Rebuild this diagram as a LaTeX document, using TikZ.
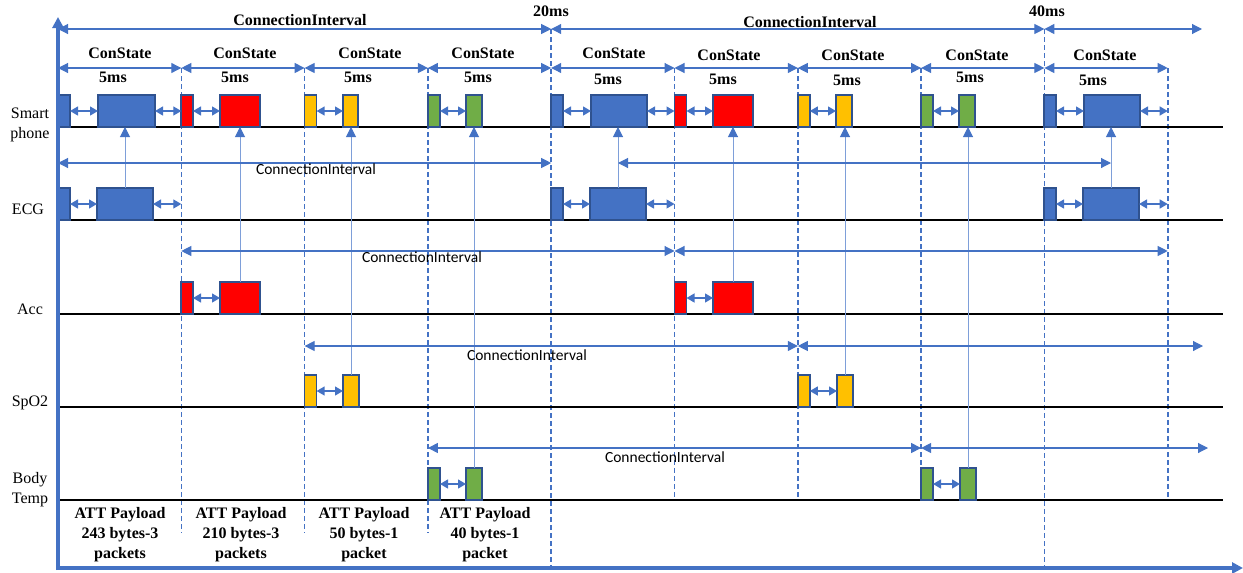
\documentclass[tikz,border=0pt]{standalone}
\usepackage{fontspec}
\setmainfont{Liberation Serif}
\newfontfamily\timesf{Liberation Serif}
\newfontfamily\calib{Carlito}
\usetikzlibrary{arrows.meta}

\definecolor{linkblue}{HTML}{4472C4}
\definecolor{edgeblue}{HTML}{2F528F}
\definecolor{guide}{HTML}{7E9FD9}
\definecolor{pktblue}{HTML}{4472C4}
\definecolor{pktred}{HTML}{FF0000}
\definecolor{pktyellow}{HTML}{FFC000}
\definecolor{pktgreen}{HTML}{70AD47}

% packet box: name, colour, left x, width, baseline y
\newcommand\pkt[5]{\node[pktbox,fill=#2,minimum width=#4pt] (#1) at (#3,#5) {};}

\begin{document}
\begin{tikzpicture}[x=1pt,y=-1pt,
  pktbox/.style={draw=edgeblue,line width=1.5pt,minimum height=32pt,inner sep=0pt,outer sep=0pt,anchor=south west},
  axisline/.style={draw=linkblue,line width=3.2pt,-{Triangle[length=11pt,width=11pt]}},
  cispan/.style={draw=linkblue,line width=1.1pt,{Triangle[length=10pt,width=10pt]}-{Triangle[length=10pt,width=10pt]}},
  gaparrow/.style={draw=linkblue,line width=1.3pt,{Triangle[length=8pt,width=9pt]}-{Triangle[length=8pt,width=9pt]}},
  slotline/.style={draw=linkblue,line width=1.6pt,dash pattern=on 5pt off 3pt},
  feedline/.style={draw=guide,line width=1pt,-{Triangle[length=10pt,width=10pt,color=linkblue]}},
  rowline/.style={draw=black,line width=1.6pt},
  hdrtext/.style={font=\timesf\fontsize{16}{18}\selectfont\bfseries,inner sep=0pt},
  devtext/.style={font=\timesf\fontsize{16}{20}\selectfont,align=center,inner sep=0pt},
  paytext/.style={font=\timesf\fontsize{16}{20}\selectfont\bfseries,align=center,inner sep=0pt},
  citext/.style={font=\calib\fontsize{15.5}{18}\selectfont,inner sep=0pt}]

\useasboundingbox (0,0) rectangle (1243,573);

% slot boundaries (5 ms each)
\foreach \i/\x in {0/58,1/181.3,2/304.6,3/427.9,4/551.2,5/674.5,6/797.8,7/921.1,8/1044.4,9/1167.7}
  \coordinate (s\i) at (\x,0);

% horizontal levels
\coordinate (yCI) at (0,29);
\coordinate (yCS) at (0,68);
\coordinate (yCut) at (0,533);
\coordinate (yAX) at (0,568);
\coordinate (rSP) at (0,127);
\coordinate (rECG) at (0,220);
\coordinate (rACC) at (0,314);
\coordinate (rSPO) at (0,407);
\coordinate (rBT) at (0,500);
\coordinate (cECG) at (0,163);
\coordinate (cACC) at (0,251);
\coordinate (cSPO) at (0,346);
\coordinate (cBT) at (0,448);
\coordinate (endTop) at (1202,29);
\coordinate (endSPO) at (1203,346);
\coordinate (endBT) at (1208,448);
\coordinate (rowEnd) at (1223,0);
\coordinate (axEnd) at (1243,568);
\coordinate (axTop) at (58,17);
\coordinate (axOrg) at (58,570);

% slot boundaries
\foreach \i in {1,2,3} \draw[slotline] (s\i |- yCS) -- (s\i |- yCut);
\foreach \i in {4,8} \draw[slotline] (s\i |- yCI) -- (s\i |- yAX);
\foreach \i in {5,6,7,9} \draw[slotline] (s\i |- yCS) -- (s\i |- rBT);

% device time lines
\foreach \r in {rSP,rECG,rACC,rSPO,rBT} \draw[rowline] (s0 |- \r) -- (rowEnd |- \r);

% top connection interval
\draw[cispan] (s0 |- yCI) -- (s4 |- yCI);
\draw[cispan] (s4 |- yCI) -- (s8 |- yCI);
\draw[cispan] (s8 |- yCI) -- (endTop);
\node[hdrtext] (ciT1) at (300,20) {ConnectionInterval};
\node[hdrtext] (ciT2) at (810,22) {ConnectionInterval};
\node[hdrtext] (t20) at (551,11) {20ms};
\node[hdrtext] (t40) at (1047,11) {40ms};

% connection states
\foreach \i [evaluate=\i as \j using int(\i+1)] in {0,...,8}
  \draw[cispan] (s\i |- yCS) -- (s\j |- yCS);
\foreach \n/\x/\y in {0/120/53,1/245/53,2/370/53,3/483/53,4/614/53,5/729/55,6/853/55,7/977/55,8/1105/55}
  \node[hdrtext] (cs\n) at (\x,\y) {ConState};
\foreach \n/\x/\y in {0/113/77,1/235/77,2/358/77,3/478/77,4/608/79,5/723/79,6/847/80,7/970/77,8/1093/80}
  \node[hdrtext] (ms\n) at (\x,\y) {5ms};

% smartphone packets
\pkt{sp0a}{pktblue}{58}{12}{127}   \pkt{sp0b}{pktblue}{98}{57}{127}
\pkt{sp1a}{pktred}{181}{12}{127}   \pkt{sp1b}{pktred}{220}{40}{127}
\pkt{sp2a}{pktyellow}{304.6}{12}{127} \pkt{sp2b}{pktyellow}{343}{15}{127}
\pkt{sp3a}{pktgreen}{428}{12}{127} \pkt{sp3b}{pktgreen}{466}{16}{127}
\pkt{sp4a}{pktblue}{551}{12}{127}  \pkt{sp4b}{pktblue}{591}{56}{127}
\pkt{sp5a}{pktred}{674.5}{12}{127} \pkt{sp5b}{pktred}{713}{40}{127}
\pkt{sp6a}{pktyellow}{797.8}{12}{127} \pkt{sp6b}{pktyellow}{836}{16}{127}
\pkt{sp7a}{pktgreen}{921}{12}{127} \pkt{sp7b}{pktgreen}{959}{16}{127}
\pkt{sp8a}{pktblue}{1044}{12}{127} \pkt{sp8b}{pktblue}{1084}{56}{127}
\foreach \k in {0,...,8} \draw[gaparrow] (sp\k a.east) -- (sp\k b.west);
\draw[gaparrow] (sp0b.east) -- (sp0b.east -| s1);
\draw[gaparrow] (sp4b.east) -- (sp4b.east -| s5);
\draw[gaparrow] (sp8b.east) -- (sp8b.east -| s9);

% ECG packets
\pkt{ecg0a}{pktblue}{58}{12}{220}   \pkt{ecg0b}{pktblue}{97}{56}{220}
\pkt{ecg1a}{pktblue}{551}{12}{220}  \pkt{ecg1b}{pktblue}{590}{56}{220}
\pkt{ecg2a}{pktblue}{1044}{12}{220} \pkt{ecg2b}{pktblue}{1083}{56}{220}
\foreach \k in {0,1,2} \draw[gaparrow] (ecg\k a.east) -- (ecg\k b.west);
\draw[gaparrow] (ecg0b.east) -- (ecg0b.east -| s1);
\draw[gaparrow] (ecg1b.east) -- (ecg1b.east -| s5);
\draw[gaparrow] (ecg2b.east) -- (ecg2b.east -| s9);

% Acc packets
\pkt{acc0a}{pktred}{181}{12}{314}   \pkt{acc0b}{pktred}{220}{40}{314}
\pkt{acc1a}{pktred}{674.5}{12}{314} \pkt{acc1b}{pktred}{713}{40}{314}
\foreach \k in {0,1} \draw[gaparrow] (acc\k a.east) -- (acc\k b.west);

% SpO2 packets
\pkt{spo0a}{pktyellow}{304.6}{12}{407} \pkt{spo0b}{pktyellow}{343}{16}{407}
\pkt{spo1a}{pktyellow}{797.8}{12}{407} \pkt{spo1b}{pktyellow}{837}{16}{407}
\foreach \k in {0,1} \draw[gaparrow] (spo\k a.east) -- (spo\k b.west);

% body temperature packets
\pkt{bt0a}{pktgreen}{428}{12}{500} \pkt{bt0b}{pktgreen}{466}{16}{500}
\pkt{bt1a}{pktgreen}{921}{12}{500} \pkt{bt1b}{pktgreen}{960}{16}{500}
\foreach \k in {0,1} \draw[gaparrow] (bt\k a.east) -- (bt\k b.west);

% data forwarded to the smartphone
\foreach \p in {ecg0b,ecg1b,ecg2b,acc0b,acc1b,spo0b,spo1b,bt0b,bt1b}
  \draw[feedline] (\p.north) -- (\p.north |- rSP);

% per-device connection intervals
\draw[cispan] (s0 |- cECG) -- (s4 |- cECG);
\draw[cispan] (ecg1b.north |- cECG) -- (ecg2b.north |- cECG);
\draw[cispan] (s1 |- cACC) -- (s5 |- cACC);
\draw[cispan] (s5 |- cACC) -- (s9 |- cACC);
\draw[cispan] (s2 |- cSPO) -- (s6 |- cSPO);
\draw[cispan] (s6 |- cSPO) -- (endSPO);
\draw[cispan] (s3 |- cBT) -- (s7 |- cBT);
\draw[cispan] (s7 |- cBT) -- (endBT);
\node[citext] (ciE) at (316,169) {ConnectionInterval};
\node[citext] (ciA) at (422,257) {ConnectionInterval};
\node[citext] (ciS) at (527,355) {ConnectionInterval};
\node[citext] (ciB) at (665,457) {ConnectionInterval};

% device names
\node[devtext] (lSP) at (30,125) {Smart\\phone};
\node[devtext] (lECG) at (28,209) {ECG};
\node[devtext] (lACC) at (30,309) {Acc};
\node[devtext] (lSPO) at (30,403) {SpO2};
\node[devtext] (lBT) at (30,490) {Body\\Temp};

% payload sizes
\node[paytext] (pay0) at (120,535) {ATT Payload\\243 bytes-3\\packets};
\node[paytext] (pay1) at (241,535) {ATT Payload\\210 bytes-3\\packets};
\node[paytext] (pay2) at (364,535) {ATT Payload\\50 bytes-1\\packet};
\node[paytext] (pay3) at (485,535) {ATT Payload\\40 bytes-1\\packet};

% axes
\draw[axisline] (axOrg) -- (axTop);
\draw[axisline] (s0 |- yAX) -- (axEnd);
\end{tikzpicture}
\end{document}
